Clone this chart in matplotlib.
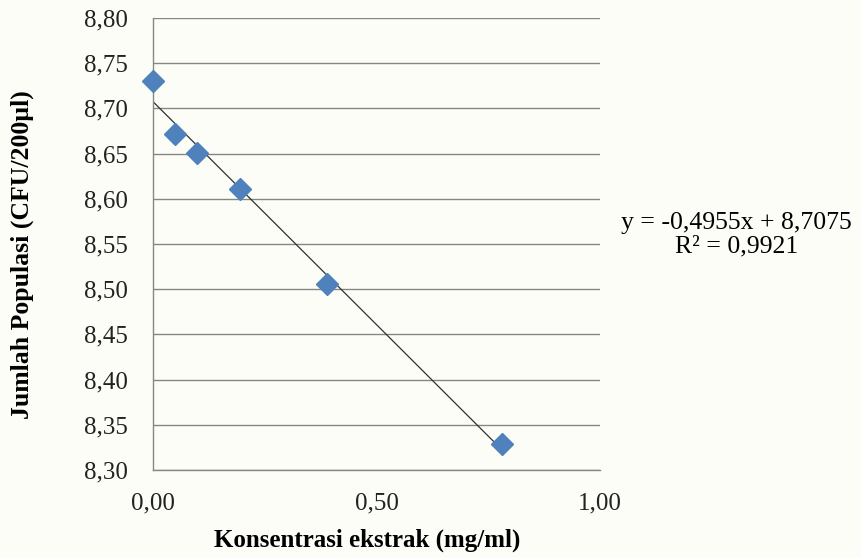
import numpy as np
import matplotlib
matplotlib.use("Agg")
import matplotlib.pyplot as plt

plt.rcParams['font.family'] = ['Liberation Serif', 'DejaVu Serif']

konsentrasi = [0.00, 0.049, 0.098, 0.195, 0.39, 0.78]
populasi = [8.730, 8.672, 8.651, 8.611, 8.506, 8.329]
yticks = [8.30, 8.35, 8.40, 8.45, 8.50, 8.55, 8.60, 8.65, 8.70, 8.75, 8.80]
xticks = [0.0, 0.5, 1.0]

fig = plt.figure(figsize=(8.61, 5.58), dpi=100)
fig.patch.set_facecolor('#fdfdf8')
ax = fig.add_axes([0.1777, 0.1577, 0.5192, 0.81])
ax.set_facecolor('none')

# linear trend line
m, b = np.polyfit(konsentrasi, populasi, 1)
xs = np.array([min(konsentrasi), max(konsentrasi)])
ax.plot(xs, m * xs + b, color='#303030', linewidth=0.9, zorder=2)

ax.plot(konsentrasi, populasi, linestyle='none', marker='D', markersize=11,
        color='#4f81bd', markeredgecolor='#4f81bd', zorder=3, clip_on=False)

ax.set_xlim(0, 1.0)
ax.set_ylim(8.30, 8.80)
ax.set_xticks(xticks)
ax.set_yticks(yticks)
ax.set_xticklabels([f"{v:.2f}".replace('.', ',') for v in xticks])
ax.set_yticklabels([f"{v:.2f}".replace('.', ',') for v in yticks])
ax.tick_params(axis='both', length=0, labelsize=18, colors='#222222')
ax.tick_params(axis='x', pad=16)
ax.tick_params(axis='y', pad=18)

ax.grid(axis='y', color='#868686', linewidth=1.0)
ax.set_axisbelow(True)
for s in ['top', 'right']:
    ax.spines[s].set_visible(False)
for s in ['left', 'bottom']:
    ax.spines[s].set_color('#868686')
    ax.spines[s].set_linewidth(1.0)

ax.set_xlabel('Konsentrasi ekstrak (mg/ml)', fontsize=18, fontweight='bold', va='center')
ax.xaxis.set_label_coords(0.479, -0.155)
ax.set_ylabel('Jumlah Populasi (CFU/200µl)', fontsize=18.5, fontweight='bold', va='center')
ax.yaxis.set_label_coords(-0.293, 0.476)

ax.text(1.306, 8.5605, 'y = -0,4955x + 8,7075\nR² = 0,9921', fontsize=18.5,
        ha='center', va='center', multialignment='center', clip_on=False,
        linespacing=1.12)

fig.savefig('out.png', dpi=100, facecolor=fig.get_facecolor())
